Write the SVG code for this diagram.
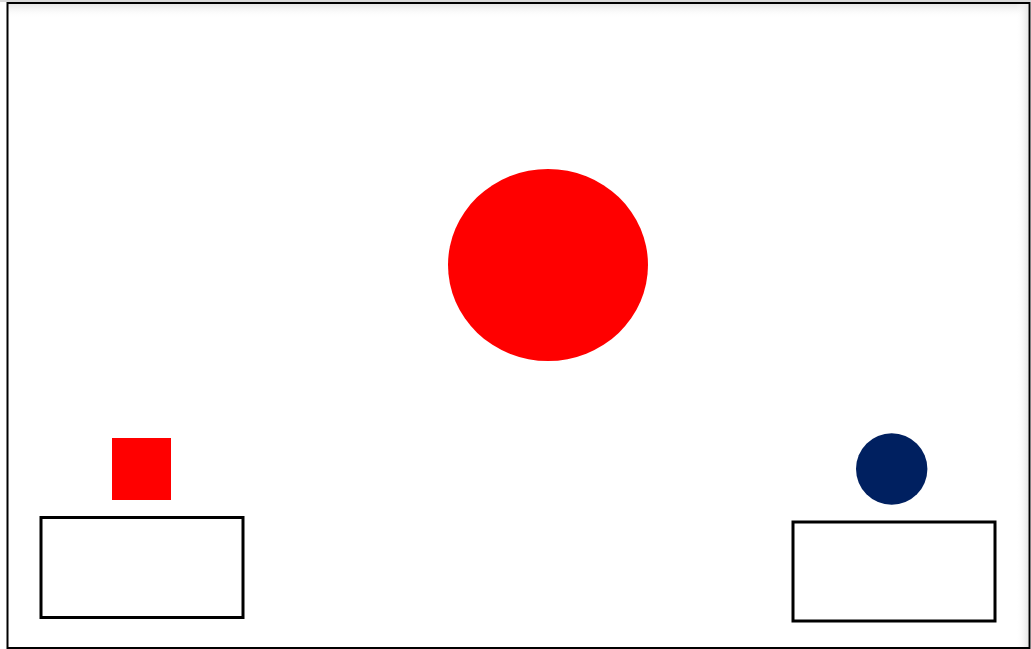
<svg xmlns="http://www.w3.org/2000/svg" width="1031" height="649" viewBox="0 0 1031 649">
  <defs>
    <linearGradient id="topShade" x1="0" y1="0" x2="0" y2="1">
      <stop offset="0" stop-color="#e6e6e6"/>
      <stop offset="1" stop-color="#ffffff" stop-opacity="0"/>
    </linearGradient>
    <linearGradient id="rightShade" x1="1" y1="0" x2="0" y2="0">
      <stop offset="0" stop-color="#e6e6e6"/>
      <stop offset="1" stop-color="#ffffff" stop-opacity="0"/>
    </linearGradient>
  </defs>
  <style>
    .box { fill: #ffffff; stroke: #000000; stroke-width: 3; }
    .red { fill: #ff0000; }
  </style>
  <rect x="0" y="0" width="1031" height="649" fill="#ffffff"/>
  <rect x="0" y="0" width="1031" height="2" fill="#d9d9d9"/>
  <rect x="8" y="4" width="1020" height="14" fill="url(#topShade)"/>
  <rect x="1016" y="4" width="12" height="643" fill="url(#rightShade)"/>
  <rect x="7.5" y="3" width="1022" height="645" fill="none" stroke="#000000" stroke-width="2"/>
  <g id="big-circle">
    <ellipse cx="548" cy="265" rx="100" ry="96" class="red"/>
  </g>
  <g id="red-square">
    <rect x="112" y="438" width="59" height="62" class="red"/>
  </g>
  <g id="left-box">
    <rect x="41" y="517.5" width="202" height="100" class="box"/>
  </g>
  <g id="navy-circle">
    <circle cx="891.7" cy="469" r="35.7" fill="#002060"/>
  </g>
  <g id="right-box">
    <rect x="793" y="522" width="202" height="99" class="box"/>
  </g>
  <g id="connectors"/>
</svg>
